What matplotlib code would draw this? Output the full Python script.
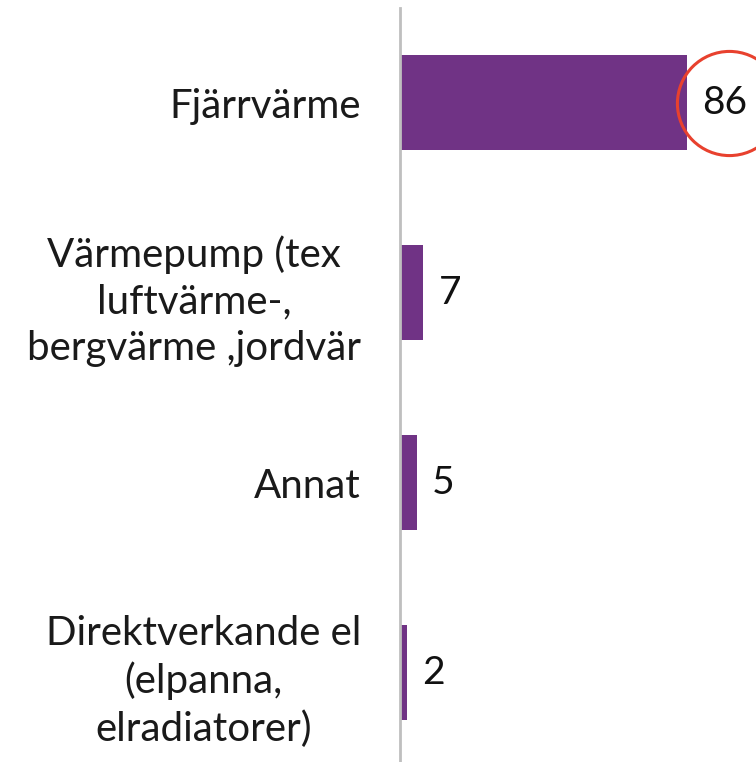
import matplotlib.pyplot as plt

categories = ['Fjärrvärme',
              'Värmepump (tex\nluftvärme-,\nbergvärme ,jordvär',
              'Annat',
              'Direktverkande el\n(elpanna,\nelradiatorer)']
values = [86, 7, 5, 2]
highlight = 0  # index of the circled value

plt.rcParams['font.family'] = ['Lato', 'DejaVu Sans']

fig = plt.figure(figsize=(7.56, 7.62), dpi=100)
ax = fig.add_axes([400 / 756, 0, 356 / 756, 1 - 8 / 762])

pos = list(range(len(values)))
ax.barh(pos, values, height=0.5, color='#703385')
ax.set_xlim(0, 106.6)
ax.set_ylim(3.47, -0.5)

ax.set_yticks(pos)
ax.set_yticklabels(categories, fontsize=29, color='#1a1a1a',
                   multialignment='center', linespacing=1.32)
ax.tick_params(axis='y', length=0, pad=28)
ax.set_xticks([])

for s in ['top', 'right', 'bottom']:
    ax.spines[s].set_visible(False)
ax.spines['left'].set_color('#bfbfbf')
ax.spines['left'].set_linewidth(2)

for p, v in zip(pos, values):
    ax.annotate(str(v), (v, p), xytext=(11, 0), textcoords='offset points',
                ha='left', va='center', fontsize=28, color='#111111')

# red ring around the top value
ax.plot([values[highlight] + 12.5], [pos[highlight]], marker='o', markersize=75,
        markerfacecolor='none', markeredgecolor='#e8412e', markeredgewidth=2.2,
        clip_on=False)

fig.savefig('out.png', dpi=100)
